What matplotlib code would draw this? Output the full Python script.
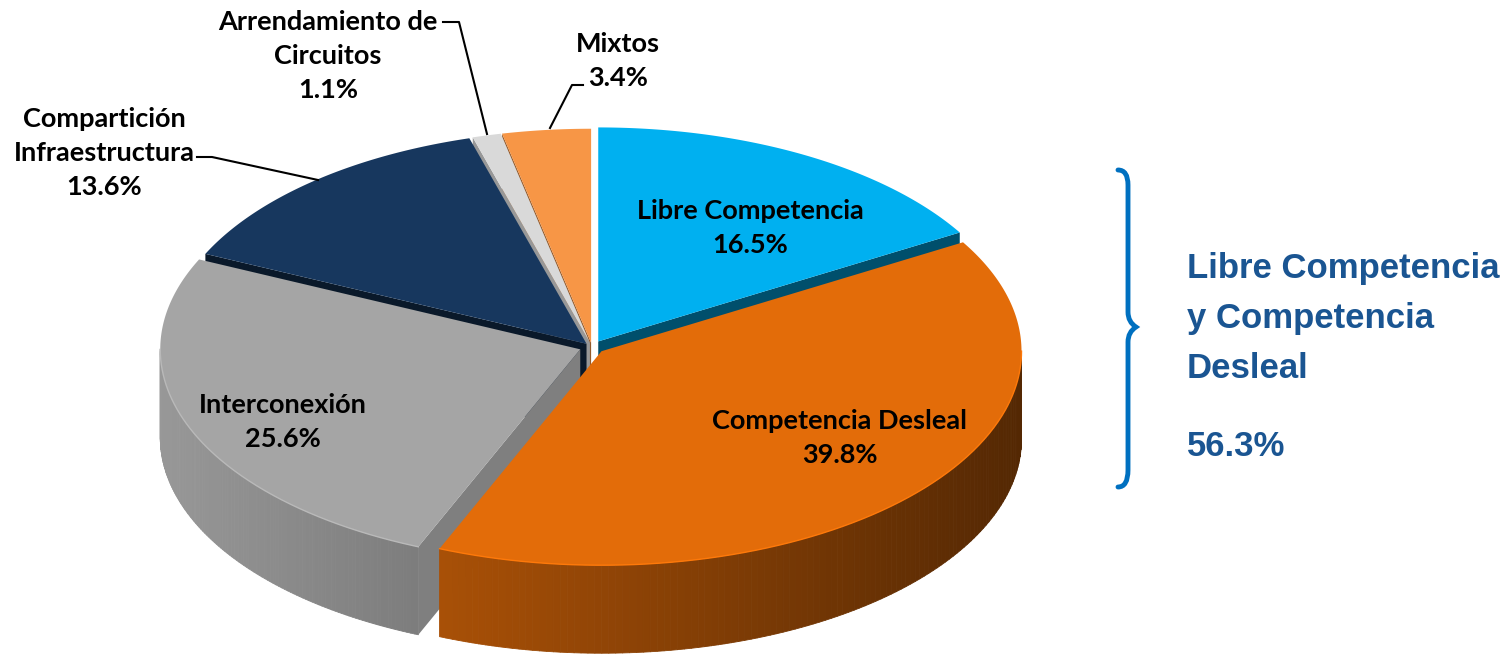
import numpy as np
import matplotlib
matplotlib.use("Agg")
import matplotlib.pyplot as plt
from matplotlib.patches import Polygon, PathPatch
from matplotlib.path import Path
from matplotlib.collections import PolyCollection
from matplotlib.colors import to_rgb

# data
categories = ["Libre Competencia", "Competencia Desleal", "Interconexión",
              "Compartición\nInfraestructura", "Arrendamiento de\nCircuitos", "Mixtos"]
shares = [16.5, 39.8, 25.6, 13.6, 1.1, 3.4]
colors = ["#00b0f0", "#e36c09", "#a5a5a5", "#17375e", "#d9d9d9", "#f79646"]
explode = [0.03, 0.03, 0.03, 0.02, 0.02, 0.02]
cut_shade = [0.45, 0.5, 0.77, 0.45, 0.7, 0.6]
group_label = "Libre Competencia\ny Competencia\nDesleal"
group_share = shares[0] + shares[1]

# pie geometry in pixel units
cx, cy = 592, 347
rx, ry = 420, 214
depth = 88

fig = plt.figure(figsize=(15.12, 6.57), dpi=100)
ax = fig.add_axes([0, 0, 1, 1])
ax.set_xlim(0, 1512)
ax.set_ylim(657, 0)
ax.axis("off")


def rim(phi, ox, oy, dz=0.0):
    r = np.radians(phi)
    return cx + ox + rx * np.cos(r), cy + oy - ry * np.sin(r) + dz


def shade(rgb, f):
    return tuple(min(1, c * f) for c in rgb)


cuts, walls, tops = [], [], []
start = 90.0
for i, v in enumerate(shares):
    sweep = v / 100 * 360
    a0, a1 = start, start - sweep
    start = a1
    mid = np.radians((a0 + a1) / 2)
    ox = explode[i] * rx * np.cos(mid)
    oy = -explode[i] * ry * np.sin(mid)
    base = to_rgb(colors[i])
    c0 = (cx + ox, cy + oy)

    # radial cut faces facing the viewer
    for edge, normal in ((a0, a0 + 90), (a1, a1 - 90)):
        if np.sin(np.radians(normal)) < -0.05:
            p = rim(edge, ox, oy)
            q = rim(edge, ox, oy, depth)
            quad = [c0, p, q, (c0[0], c0[1] + depth)]
            order = np.mean([pt[1] for pt in quad])
            cuts.append((order, Polygon(quad, closed=True,
                                        facecolor=shade(base, cut_shade[i]),
                                        edgecolor="none", zorder=1)))

    # curved front wall
    for k in (-2, -1, 0):
        lo, hi = max(a1, -180 + 360 * k), min(a0, 360 * k)
        if hi > lo:
            ph = np.linspace(lo, hi, 120)
            strips, cols = [], []
            for j in range(len(ph) - 1):
                p1, p2 = rim(ph[j], ox, oy), rim(ph[j + 1], ox, oy)
                q1, q2 = rim(ph[j], ox, oy, depth), rim(ph[j + 1], ox, oy, depth)
                strips.append([p1, p2, q2, q1])
                t = (p1[0] - 160) / 860
                cols.append(shade(base, 0.92 - 0.55 * t))
            walls.append(PolyCollection(strips, facecolors=cols, edgecolors=cols,
                                        linewidths=0.6, zorder=2))
            ph2 = np.linspace(lo, hi, 200)
            xs, ys = rim(ph2, ox, oy)
            ax.plot(xs, ys, color=shade(base, 1.12), lw=1.0, zorder=3.5)

    ph = np.linspace(a1, a0, 300)
    xs, ys = rim(ph, ox, oy)
    tops.append(Polygon([c0] + list(zip(xs, ys)), closed=True,
                        facecolor=base, edgecolor="none", zorder=3))

for _, p in sorted(cuts, key=lambda c: c[0]):
    ax.add_patch(p)
for w in walls:
    ax.add_collection(w)
for p in tops:
    ax.add_patch(p)

# data labels
lab_font = dict(family="Lato", fontweight="bold", fontsize=19.5, color="black",
                ha="center", va="center", linespacing=1.5, zorder=5)
ax.text(750, 228, f"{categories[0]}\n{shares[0]}%", **lab_font)
ax.text(840, 438, f"{categories[1]}\n{shares[1]}%", **lab_font)
ax.text(283, 422, f"{categories[2]}\n{shares[2]}%", **lab_font)
ax.text(104, 153, f"{categories[3]}\n{shares[3]}%", **lab_font)
ax.text(328, 56, f"{categories[4]}\n{shares[4]}%", **lab_font)
ax.text(618, 61, f"{categories[5]}\n{shares[5]}%", **lab_font)

# leader lines
lead = dict(color="black", lw=1.5, zorder=4)
ax.plot([197, 212, 318], [157, 157, 180], **lead)
ax.plot([443, 459, 487], [22, 22, 134], **lead)
ax.plot([583, 572, 550], [85, 85, 128], **lead)

# brace and group total
verts = [(1118, 170), (1128, 170), (1128, 185), (1128, 185),
         (1128, 312), (1128, 322), (1136, 327), (1128, 332),
         (1128, 342), (1128, 470), (1128, 470), (1128, 487), (1118, 487)]
codes = [Path.MOVETO, Path.CURVE3, Path.CURVE3, Path.LINETO,
         Path.LINETO, Path.CURVE3, Path.CURVE3, Path.CURVE3,
         Path.CURVE3, Path.LINETO, Path.LINETO, Path.CURVE3, Path.CURVE3]
ax.add_patch(PathPatch(Path(verts, codes), facecolor="none", edgecolor="#0070c0",
                       lw=3.5, capstyle="round", zorder=4))

grp_font = dict(family="Liberation Sans", fontweight="bold", fontsize=25,
                color="#1a5592", ha="left", zorder=5)
ax.text(1187, 252, group_label, va="top", linespacing=1.65, **grp_font)
ax.text(1187, 447, f"{group_share:.1f}%", va="center", **grp_font)

fig.savefig("out.png", dpi=100)
